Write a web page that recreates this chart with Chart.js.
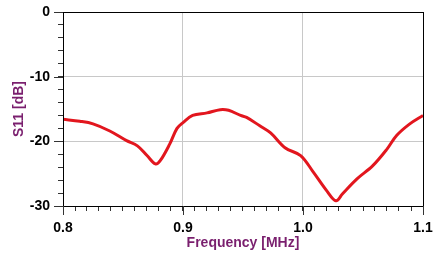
<!DOCTYPE html>
<html>
<head>
<meta charset="utf-8">
<script src="https://cdn.jsdelivr.net/npm/chart.js@4"></script>
<style>
  html, body { margin: 0; padding: 0; background: #fff; }
  #wrap { width: 435px; height: 256px; }
</style>
</head>
<body>
<div id="wrap"><canvas id="s11Chart" width="435" height="256"></canvas></div>
<script>
// frequency (MHz) and return loss (dB)
var freqs = [0.800, 0.814, 0.825, 0.839, 0.853, 0.862, 0.870, 0.877, 0.881, 0.889,
             0.895, 0.900, 0.908, 0.920, 0.931, 0.938, 0.948, 0.953, 0.964, 0.973,
             0.985, 0.998, 1.008, 1.020, 1.0275, 1.033, 1.045, 1.058, 1.070, 1.078,
             1.089, 1.100];
var s11 = [-16.6, -16.9, -17.3, -18.4, -19.9, -20.7, -22.2, -23.5, -23.0, -20.4,
           -18.0, -17.1, -16.0, -15.6, -15.1, -15.2, -16.0, -16.3, -17.6, -18.7,
           -21.0, -22.2, -24.6, -27.7, -29.2, -28.1, -25.8, -23.8, -21.2, -19.1,
           -17.3, -16.0];
var xLabels = [0.8, 0.9, 1.0, 1.1];
var yLabels = [0, -10, -20, -30];

var points = freqs.map(function (f, i) { return { x: f, y: s11[i] }; });

function isMajorX(v) { return xLabels.some(function (l) { return Math.abs(l - v) < 1e-6; }); }
function isMajorY(v) { return yLabels.indexOf(Math.round(v)) >= 0 && Math.abs(v - Math.round(v)) < 1e-6; }

var tickFont = { family: 'Liberation Sans, Arial, sans-serif', size: 14, weight: 'bold' };
var titleFont = { family: 'Liberation Sans, Arial, sans-serif', size: 14, weight: 'bold' };
var purple = '#7a1f6e';

// frame round the plot area + longer marks at the labelled ticks
var frame = {
    id: 'frame',
    afterDraw: function (chart) {
        var a = chart.chartArea, c = chart.ctx;
        var sx = chart.scales.x, sy = chart.scales.y;
        c.save();
        c.strokeStyle = '#000';
        c.lineWidth = 1;
        c.strokeRect(a.left + 0.5, a.top + 0.5, a.right - a.left, a.bottom - a.top);
        c.strokeStyle = '#333';
        c.beginPath();
        xLabels.forEach(function (v) {
            var px = Math.round(sx.getPixelForValue(v)) + 0.5;
            c.moveTo(px, a.bottom); c.lineTo(px, a.bottom + 9);
        });
        yLabels.forEach(function (v) {
            var py = Math.round(sy.getPixelForValue(v)) + 0.5;
            c.moveTo(a.left, py); c.lineTo(a.left - 9, py);
        });
        c.stroke();
        c.restore();
    }
};

var ctx = document.getElementById('s11Chart').getContext('2d');
var myChart = new Chart(ctx, {
    type: 'line',
    plugins: [frame],
    data: {
        datasets: [{
            label: 'S11',
            data: points,
            borderColor: 'rgb(226, 22, 30)',
            borderWidth: 3,
            pointRadius: 0,
            fill: false,
            tension: 0.35
        }]
    },
    options: {
        responsive: false,
        animation: false,
        layout: { padding: { top: 12, right: 12, left: 0, bottom: 0 } },
        plugins: { legend: { display: false }, tooltip: { enabled: false } },
        scales: {
            x: {
                type: 'linear',
                min: 0.8,
                max: 1.1,
                afterFit: function (s) { s.height = 50; s.paddingLeft = 0; s.paddingRight = 0; },
                afterBuildTicks: function (s) {
                    var t = [];
                    for (var i = 0; i <= 30; i++) t.push({ value: Math.round((0.8 + i * 0.01) * 1000) / 1000 });
                    s.ticks = t;
                },
                grid: {
                    color: function (c) { return c.tick && isMajorX(c.tick.value) ? '#c8c8c8' : 'rgba(0,0,0,0)'; },
                    tickColor: '#333',
                    tickLength: 5,
                    drawTicks: true
                },
                border: { color: '#000' },
                ticks: {
                    autoSkip: false,
                    maxRotation: 0,
                    color: '#000',
                    font: tickFont,
                    padding: 9,
                    callback: function (v) { return isMajorX(v) ? v.toFixed(1) : ''; }
                },
                title: { display: true, text: 'Frequency [MHz]', color: purple, font: titleFont, padding: { top: 0, bottom: 4 } }
            },
            y: {
                min: -30,
                max: 0,
                afterFit: function (s) { s.width = 63; s.paddingTop = 0; s.paddingBottom = 0; },
                ticks: {
                    stepSize: 2,
                    autoSkip: false,
                    color: '#000',
                    font: tickFont,
                    padding: 8,
                    callback: function (v) { return isMajorY(v) ? String(v) : ''; }
                },
                grid: {
                    color: function (c) { return c.tick && isMajorY(c.tick.value) ? '#c8c8c8' : 'rgba(0,0,0,0)'; },
                    tickColor: '#333',
                    tickLength: 5
                },
                border: { color: '#000' },
                title: { display: true, text: 'S11 [dB]', color: purple, font: titleFont, padding: { top: 11, bottom: 0 } }
            }
        }
    }
});
</script>
</body>
</html>
